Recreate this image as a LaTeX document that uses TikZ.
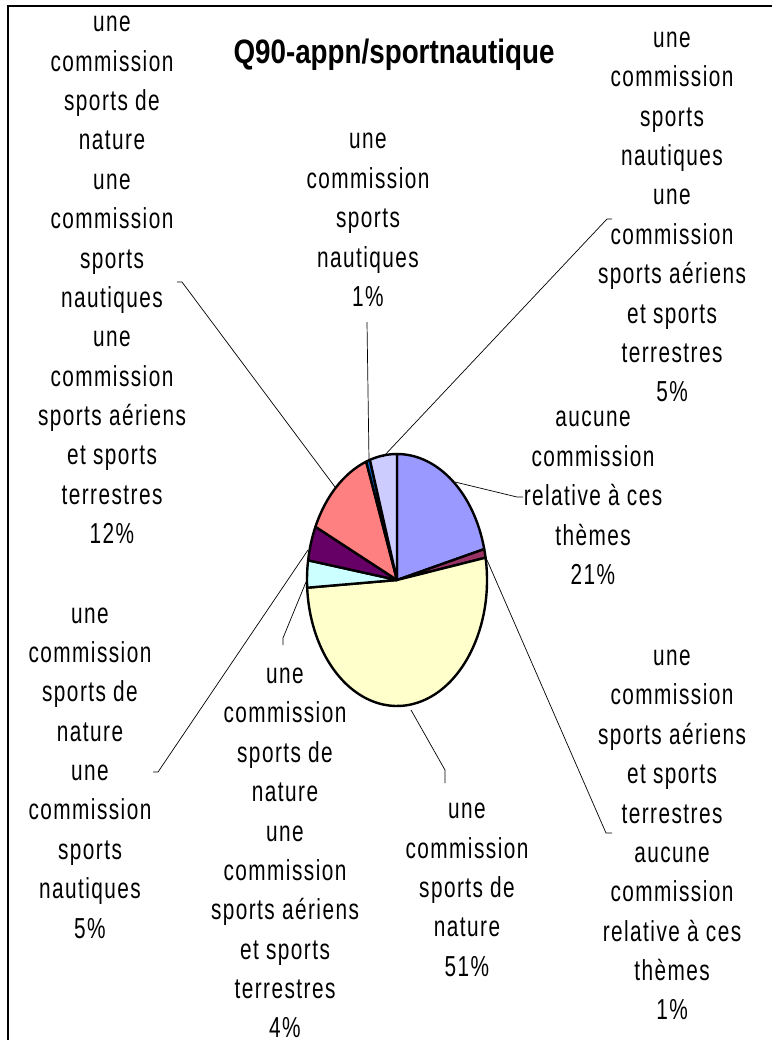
\documentclass[tikz,border=0pt]{standalone}
\usepackage{fontspec}
\setmainfont{Liberation Sans}
\newfontfamily\lblfont[FakeStretch=0.72,LetterSpace=5]{Liberation Sans}
\newfontfamily\ttlfont[FakeStretch=0.82]{Liberation Sans}
\usepackage{tikz}
\usetikzlibrary{positioning}
\usetikzlibrary{calc}
\definecolor{sla}{HTML}{9999FF}
\definecolor{slb}{HTML}{993366}
\definecolor{slc}{HTML}{FFFFCC}
\definecolor{sld}{HTML}{CCFFFF}
\definecolor{sle}{HTML}{660066}
\definecolor{slf}{HTML}{FF8080}
\definecolor{slg}{HTML}{0066CC}
\definecolor{slh}{HTML}{CCCCFF}
\tikzset{lbl/.style={align=center, inner sep=0pt, font=\lblfont\fontsize{29}{39.5}\selectfont},
  slice/.style={draw=black, line width=2.4bp, line join=round},
  lead/.style={line width=0.7bp}}

\begin{document}
\begin{tikzpicture}[x=1bp,y=-1bp]
  \useasboundingbox (0,0) rectangle (772,1040);
  \draw[line width=1.2bp] (8,1040) -- (8,6) -- (772,6);
  \node[font=\ttlfont\bfseries\fontsize{34}{36}\selectfont] (title) at (394,55) {Q90-appn/sportnautique};
  % pie
  \begin{scope}[shift={(397,580)}, x=90bp, y=126bp]
    \foreach \a/\b/\c in {90/14.2/sla, 14.2/10.2/slb, 10.2/-176.5/slc, -176.5/-189/sld, -189/-205/sle, -205/-250/slf, -250/-252.5/slg, -252.5/-270/slh}
      \filldraw[slice, fill=\c] (0,0) -- (\a:1) arc[start angle=\a, end angle=\b, radius=1] -- cycle;
  \end{scope}
  % labels
  \node[lbl] (lf) at (112,280) {une\\commission\\sports de\\nature\\une\\commission\\sports\\nautiques\\une\\commission\\sports aériens\\et sports\\terrestres\\12\%};
  \node[lbl] (lg) at (368,220) {une\\commission\\sports\\nautiques\\1\%};
  \node[lbl] (lh) at (672,217) {une\\commission\\sports\\nautiques\\une\\commission\\sports aériens\\et sports\\terrestres\\5\%};
  \node[lbl] (la) at (593,498) {aucune\\commission\\relative à ces\\thèmes\\21\%};
  \node[lbl] (lb) at (672,835) {une\\commission\\sports aériens\\et sports\\terrestres\\aucune\\commission\\relative à ces\\thèmes\\1\%};
  \node[lbl] (lc) at (467,890) {une\\commission\\sports de\\nature\\51\%};
  \node[lbl] (ld) at (285,853) {une\\commission\\sports de\\nature\\une\\commission\\sports aériens\\et sports\\terrestres\\4\%};
  \node[lbl] (le) at (90,773) {une\\commission\\sports de\\nature\\une\\commission\\sports\\nautiques\\5\%};
  % leader lines
  \coordinate (pa) at (455,482); \coordinate (ea) at (523,497);
  \coordinate (pb) at (487,560); \coordinate (eb) at (612,833);
  \coordinate (pc) at (411,710); \coordinate (ec) at (445,783);
  \coordinate (pd) at (306,582); \coordinate (ed) at (283,645);
  \coordinate (pe) at (308,550); \coordinate (ee) at (153,772);
  \coordinate (pf) at (335,487); \coordinate (ef) at (177,282);
  \coordinate (pg) at (369,460); \coordinate (eg) at (367,322);
  \coordinate (ph) at (383,457); \coordinate (eh) at (612,219);
  \draw[lead] (pa) -- ([xshift=-6bp]ea) -- (ea);
  \draw[lead] (pb) -- ([xshift=-6bp]eb) -- (eb);
  \draw[lead] (pc) -- ([yshift=13bp]ec) -- (ec);
  \draw[lead] (pd) -- ([yshift=7bp]ed) -- (ed);
  \draw[lead] (pe) -- ([xshift=5bp]ee) -- (ee);
  \draw[lead] (pf) -- ([xshift=5bp]ef) -- (ef);
  \draw[lead] (pg) -- (eg);
  \draw[lead] (ph) -- ([xshift=-5bp]eh) -- (eh);
\end{tikzpicture}
\end{document}
